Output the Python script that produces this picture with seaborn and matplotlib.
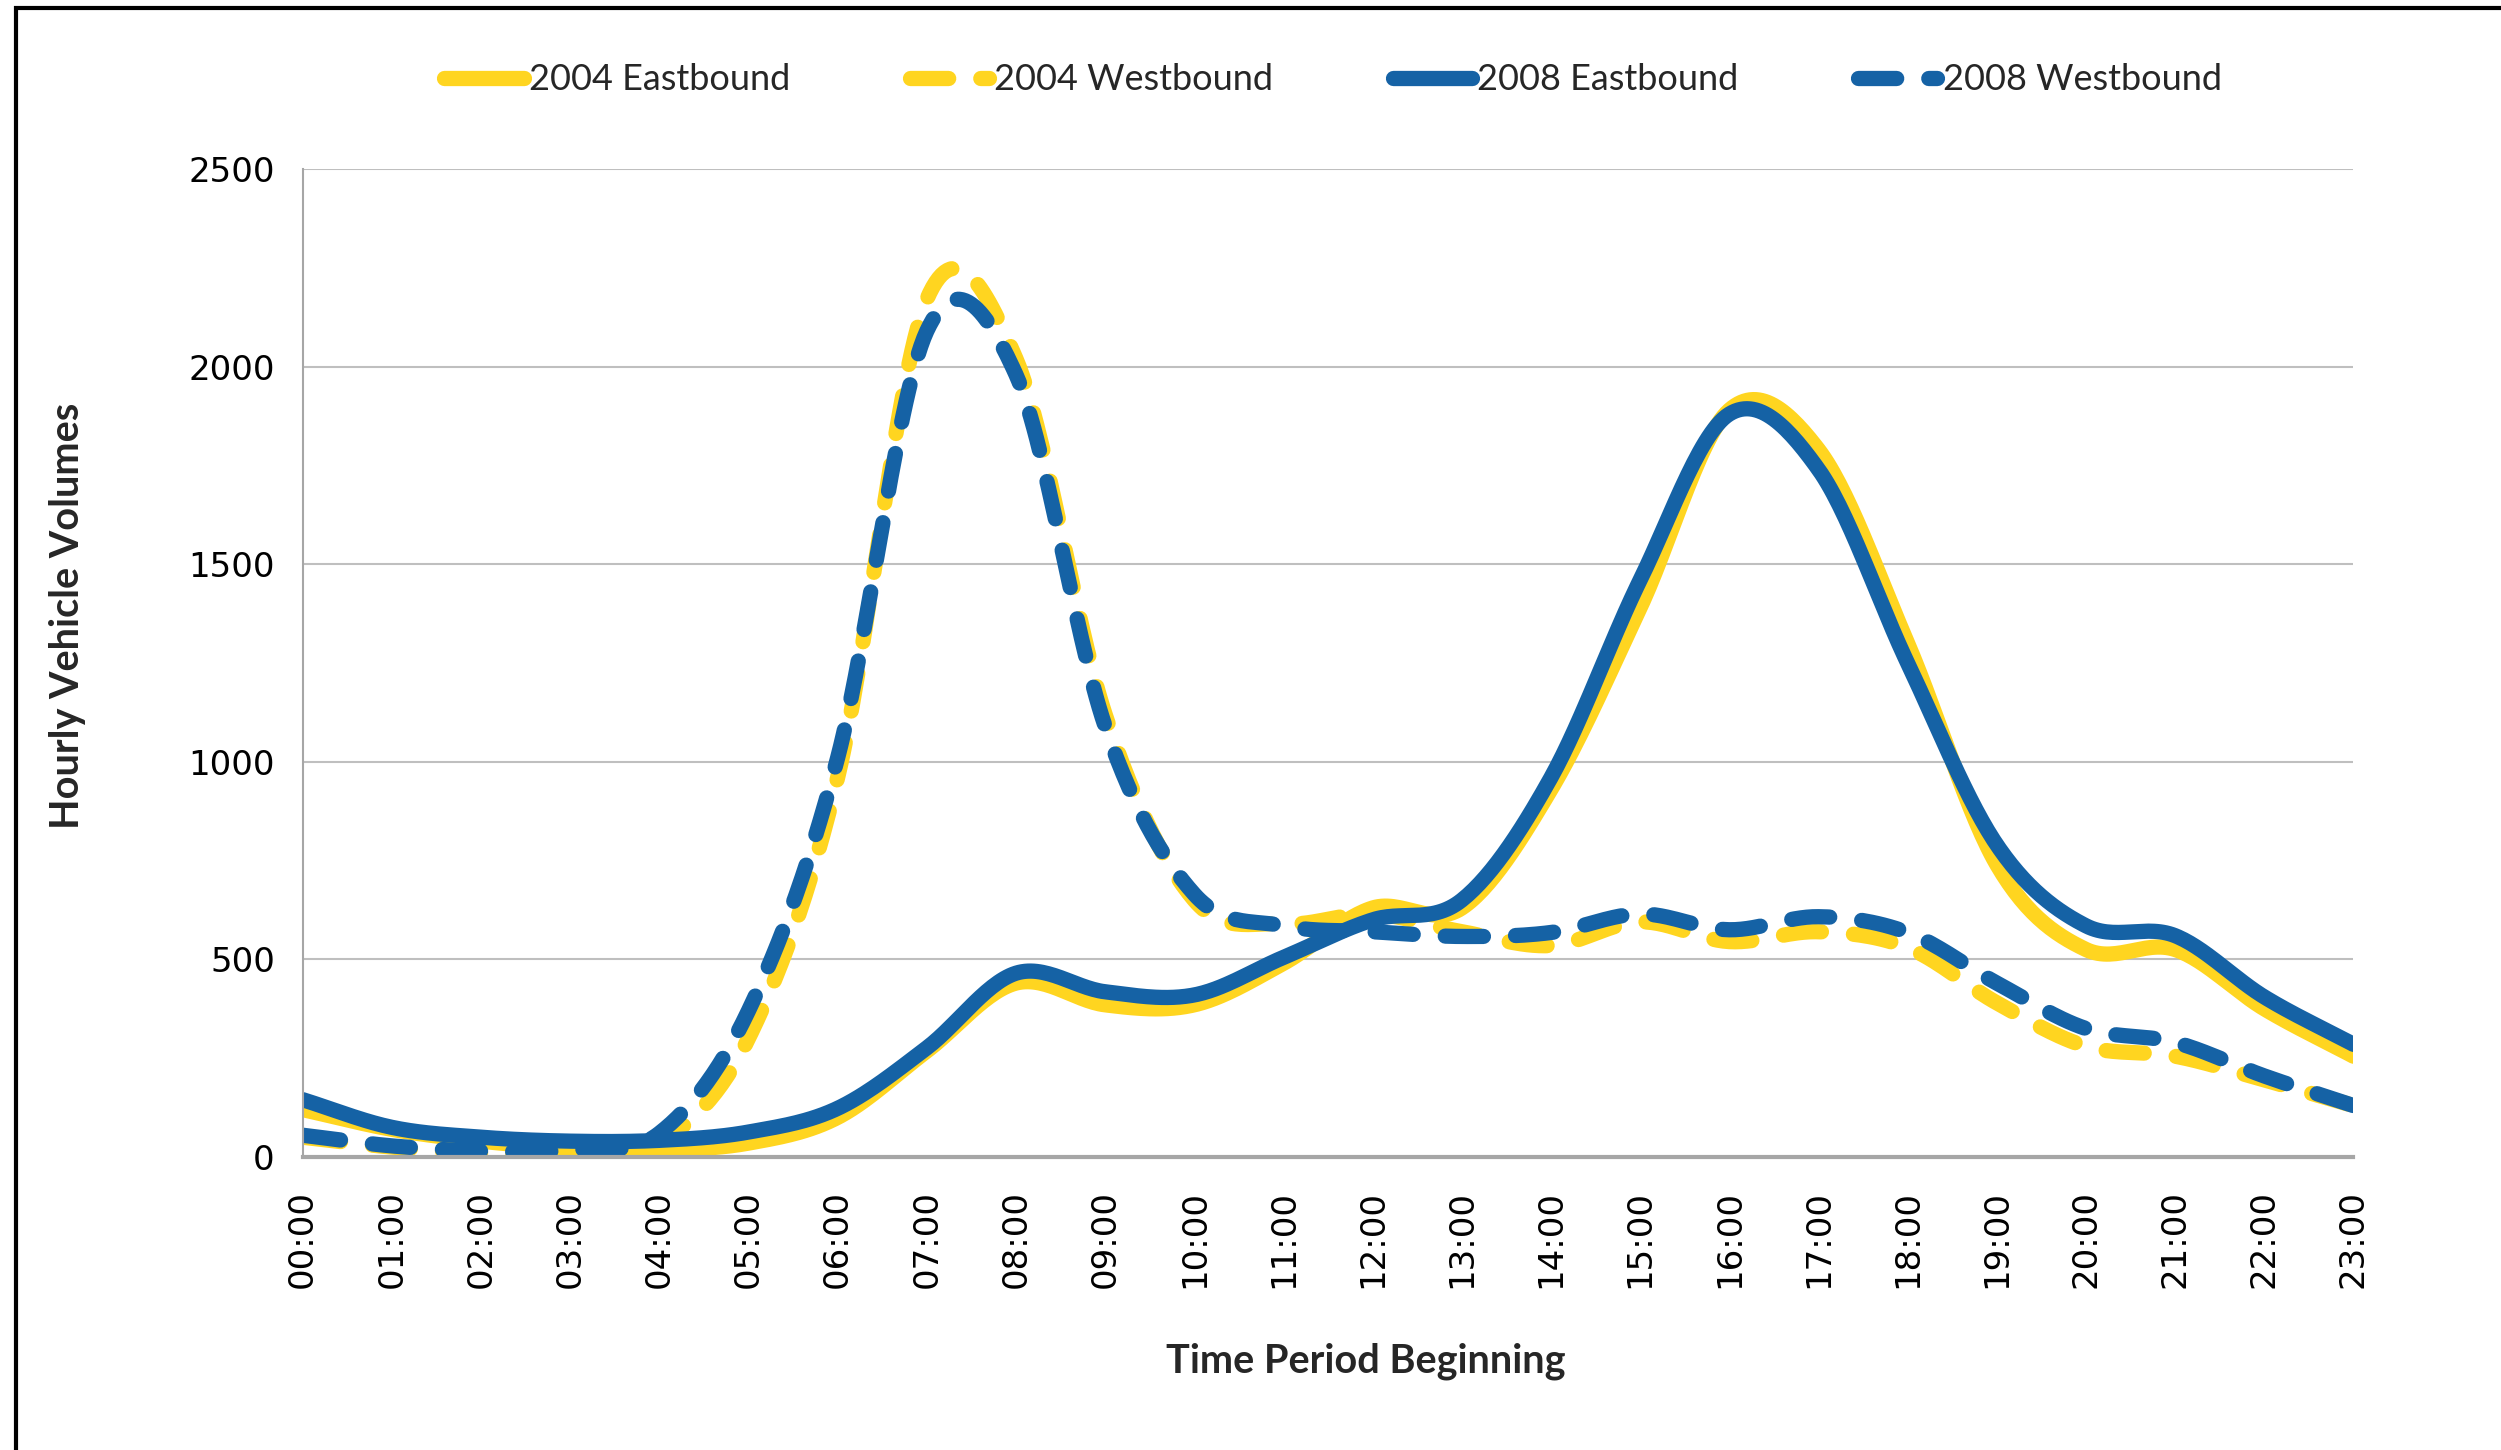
import numpy as np
import pandas as pd
import matplotlib
matplotlib.use("Agg")
import matplotlib.pyplot as plt
import seaborn as sns
from matplotlib.lines import Line2D
from matplotlib.patches import Rectangle

# hourly volumes
hours = list(range(24))
hour_labels = [f"{h:02d}:00" for h in hours]

eb_2004 = [120, 70, 40, 22, 18, 35, 100, 268, 440, 385, 385, 490,
           630, 630, 930, 1390, 1890, 1790, 1300, 740, 525, 525, 375, 255]
wb_2004 = [50, 25, 10, 10, 35, 300, 960, 2170, 2020, 1120, 650, 590,
           615, 570, 535, 595, 545, 570, 530, 390, 280, 255, 195, 130]
eb_2008 = [145, 75, 50, 40, 42, 63, 123, 276, 465, 418, 410, 505,
           600, 650, 960, 1460, 1880, 1740, 1250, 790, 585, 560, 405, 285]
wb_2008 = [55, 28, 15, 18, 60, 370, 1010, 2090, 1980, 1090, 665, 585,
           570, 558, 568, 615, 575, 608, 568, 440, 325, 290, 205, 130]

series_names = ["2004 Eastbound", "2004 Westbound", "2008 Eastbound", "2008 Westbound"]
series_values = [eb_2004, wb_2004, eb_2008, wb_2008]

YELLOW = "#FFD520"
BLUE = "#1562A5"
colors = [YELLOW, YELLOW, BLUE, BLUE]
dashed = [False, True, False, True]


def smooth(x, y, n=30):
    # Catmull-Rom style curve through the points, like Excel's "smoothed line"
    x = np.asarray(x, float)
    y = np.asarray(y, float)
    m = np.gradient(y, x)
    xs, ys = [], []
    for i in range(len(x) - 1):
        t = np.linspace(0, 1, n, endpoint=False)
        h = x[i + 1] - x[i]
        h00 = 2 * t**3 - 3 * t**2 + 1
        h10 = t**3 - 2 * t**2 + t
        h01 = -2 * t**3 + 3 * t**2
        h11 = t**3 - t**2
        xs.append(x[i] + t * h)
        ys.append(h00 * y[i] + h10 * h * m[i] + h01 * y[i + 1] + h11 * h * m[i + 1])
    xs.append([x[-1]])
    ys.append([y[-1]])
    return np.concatenate(xs), np.concatenate(ys)


sns.set_theme(style="white")
plt.rcParams["font.family"] = ["DejaVu Sans"]

fig = plt.figure(figsize=(25.01, 14.5), dpi=100)
ax = fig.add_axes([0.121, 0.2021, 0.82, 0.6813])

lw = 11
for name, vals, c, d in zip(series_names, series_values, colors, dashed):
    sx, sy = smooth(hours, vals)
    df = pd.DataFrame({"hour": sx, "volume": sy})
    sns.lineplot(data=df, x="hour", y="volume", ax=ax, color=c, linewidth=lw,
                 sort=False, estimator=None, legend=False)
    line = ax.lines[-1]
    line.set_solid_capstyle("round")
    line.set_solid_joinstyle("round")
    if d:
        line.set_dashes((2.5, 2.1))
        line.set_dash_capstyle("round")

ax.set_xlim(0, 23)
ax.set_ylim(0, 2500)
ax.set_yticks(range(0, 2501, 500))
ax.set_xticks(hours)
ax.set_xticklabels(hour_labels, rotation=90)
ax.tick_params(axis="both", labelsize=24.5, colors="#A6A6A6", labelcolor="black",
               length=12, width=1.5, direction="out", pad=8)
ax.tick_params(axis="x", pad=12)
ax.yaxis.grid(True, color="#BFBFBF", linewidth=1.5)
ax.set_axisbelow(True)
for s in ["top", "right"]:
    ax.spines[s].set_visible(False)
ax.spines["left"].set_color("#A6A6A6")
ax.spines["left"].set_linewidth(1.5)
ax.spines["bottom"].set_color("#A6A6A6")
ax.spines["bottom"].set_linewidth(3)

ax.set_xlabel("")
ax.set_ylabel("")
fig.text(0.027, 0.575, "Hourly Vehicle Volumes", rotation=90, ha="center", va="center",
         fontsize=28.5, fontweight="bold", family=["Lato", "DejaVu Sans"])
fig.text(0.546, 0.0614, "Time Period Beginning", ha="center", va="center",
         fontsize=28.5, fontweight="bold", family=["Lato", "DejaVu Sans"])

handles = []
for c, d in zip(colors, dashed):
    h = Line2D([], [], color=c, linewidth=lw, solid_capstyle="round")
    if d:
        h.set_dashes((2.5, 2.1))
        h.set_dash_capstyle("round")
    handles.append(h)
fig.legend(handles, series_names, loc="center", bbox_to_anchor=(0.533, 0.945), ncol=4,
           frameon=False, handlelength=2.2, handletextpad=0.15, columnspacing=3.3,
           prop={"family": ["Lato", "DejaVu Sans"], "size": 26})

# outer frame of the exported chart
fig.patches.append(Rectangle((0.0064, -0.1), 1.5, 1.1 - 0.0055, transform=fig.transFigure,
                             fill=False, edgecolor="black", linewidth=3))

fig.savefig("out.png", dpi=100, facecolor="white")
